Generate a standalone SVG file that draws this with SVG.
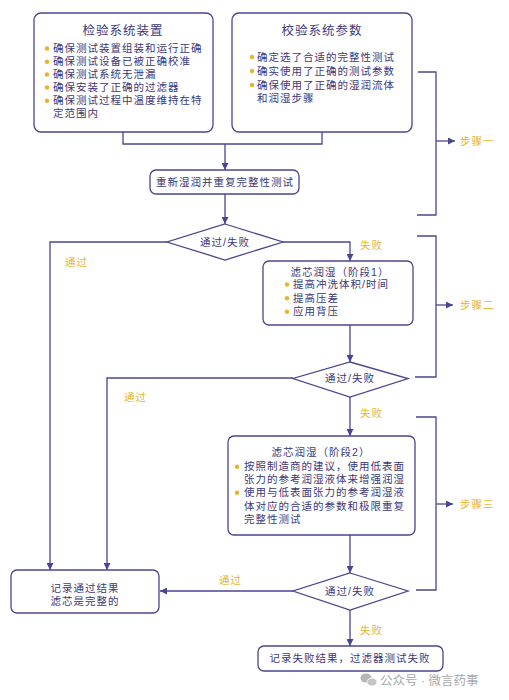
<svg xmlns="http://www.w3.org/2000/svg" width="509" height="700" viewBox="0 0 509 700">
<style>
.box{fill:#fff;stroke:#4b4590;stroke-width:1.3}
.ln{fill:none;stroke:#4b4590;stroke-width:1.3}
.t{font-family:"Liberation Sans","Noto Sans CJK SC",sans-serif;font-size:10.5px;letter-spacing:1px;fill:#3c3878}
.tt{font-family:"Liberation Sans","Noto Sans CJK SC",sans-serif;font-size:12.5px;letter-spacing:1px;fill:#3c3878}
.g{font-family:"Liberation Sans","Noto Sans CJK SC",sans-serif;font-size:10.5px;letter-spacing:1px;fill:#e6b52e}
.dot{fill:#e6b52e}
.wm{font-family:"Liberation Sans","Noto Sans CJK SC",sans-serif;font-size:12.5px;fill:#a8a8a8}
</style>
<defs>
<marker id="ar" viewBox="0 0 10 10" refX="10" refY="5" markerWidth="7" markerHeight="7" orient="auto" markerUnits="userSpaceOnUse">
<path d="M0,0 L10,5 L0,10 z" fill="#4b4590"/>
</marker>
</defs>
<rect width="509" height="700" fill="#fff"/>
<g id="connectors">
<path class="ln" d="M123,132 V144 H322 V132"/>
<path class="ln" d="M225,144 V170" marker-end="url(#ar)"/>
<path class="ln" d="M225,194 V224" marker-end="url(#ar)"/>
<path class="ln" d="M283,242 H350 V261" marker-end="url(#ar)"/>
<path class="ln" d="M167,242 H50 V570" marker-end="url(#ar)"/>
<path class="ln" d="M350,325 V362" marker-end="url(#ar)"/>
<path class="ln" d="M293,378 H107 V570" marker-end="url(#ar)"/>
<path class="ln" d="M350,397 V436" marker-end="url(#ar)"/>
<path class="ln" d="M350,535 V573" marker-end="url(#ar)"/>
<path class="ln" d="M293,591 H160" marker-end="url(#ar)"/>
<path class="ln" d="M350,610 V646" marker-end="url(#ar)"/>
<path class="ln" d="M418,72 H436 V215 H417"/>
<path class="ln" d="M436,141 H455" marker-end="url(#ar)"/>
<path class="ln" d="M417,236 H436 V377 H415"/>
<path class="ln" d="M436,305 H453" marker-end="url(#ar)"/>
<path class="ln" d="M416,417 H436 V590 H416"/>
<path class="ln" d="M436,504 H453" marker-end="url(#ar)"/>
<text class="g" x="360" y="249">失败</text>
<text class="g" x="65" y="266">通过</text>
<text class="g" x="124" y="401">通过</text>
<text class="g" x="360" y="417">失败</text>
<text class="g" x="219" y="584">通过</text>
<text class="g" x="360" y="634">失败</text>
<text class="g" x="460" y="145">步骤一</text>
<text class="g" x="460" y="309">步骤二</text>
<text class="g" x="460" y="508">步骤三</text>
</g>
<g id="box1">
<rect class="box" x="34" y="13" width="179" height="119" rx="7"/>
<text class="tt" x="123" y="35" text-anchor="middle">检验系统装置</text>
<circle class="dot" cx="47" cy="48.5" r="2.2"/>
<circle class="dot" cx="47" cy="61.7" r="2.2"/>
<circle class="dot" cx="47" cy="74.5" r="2.2"/>
<circle class="dot" cx="47" cy="87.5" r="2.2"/>
<circle class="dot" cx="47" cy="100.7" r="2.2"/>
<text class="t"><tspan x="53" y="52.2">确保测试装置组装和运行正确</tspan><tspan x="53" y="65.4">确保测试设备已被正确校准</tspan><tspan x="53" y="78.2">确保测试系统无泄漏</tspan><tspan x="53" y="91.2">确保安装了正确的过滤器</tspan><tspan x="53" y="104.4">确保测试过程中温度维持在特</tspan><tspan x="53" y="117.3">定范围内</tspan></text>
</g>
<g id="box2">
<rect class="box" x="232" y="13" width="180" height="119" rx="7"/>
<text class="tt" x="322" y="35" text-anchor="middle">校验系统参数</text>
<circle class="dot" cx="252" cy="57" r="2.2"/>
<circle class="dot" cx="252" cy="71" r="2.2"/>
<circle class="dot" cx="252" cy="85" r="2.2"/>
<text class="t"><tspan x="257" y="60.7">确定选了合适的完整性测试</tspan><tspan x="257" y="74.7">确实使用了正确的测试参数</tspan><tspan x="257" y="88.7">确保使用了正确的湿润流体</tspan><tspan x="257" y="102.3">和润湿步骤</tspan></text>
</g>
<g id="box3">
<rect class="box" x="150" y="170" width="149" height="24" rx="6"/>
<text class="t" x="225" y="186" text-anchor="middle">重新湿润并重复完整性测试</text>
</g>
<g id="diamond1">
<polygon class="box" points="225,224 283,242 225,260 167,242"/>
<text class="t" x="225" y="245.8" text-anchor="middle">通过/失败</text>
</g>
<g id="box4">
<rect class="box" x="263" y="261" width="150" height="64" rx="6"/>
<circle class="dot" cx="287" cy="284.5" r="2.2"/>
<circle class="dot" cx="287" cy="298.3" r="2.2"/>
<circle class="dot" cx="287" cy="311.7" r="2.2"/>
<text class="t"><tspan x="340" y="275.5" text-anchor="middle">滤芯润湿（阶段1）</tspan><tspan x="293" y="288.3">提高冲洗体积/时间</tspan><tspan x="293" y="302">提高压差</tspan><tspan x="293" y="315.4">应用背压</tspan></text>
</g>
<g id="diamond2">
<polygon class="box" points="350,362 408,378.5 350,397 293,378.5"/>
<text class="t" x="350" y="382.3" text-anchor="middle">通过/失败</text>
</g>
<g id="box5">
<rect class="box" x="228" y="436" width="187" height="99" rx="6"/>
<circle class="dot" cx="237" cy="466.7" r="2.2"/>
<circle class="dot" cx="237" cy="492.7" r="2.2"/>
<text class="t"><tspan x="321" y="455.5" text-anchor="middle">滤芯润湿（阶段2）</tspan><tspan x="244" y="470.4">按照制造商的建议，使用低表面</tspan><tspan x="244" y="482.8">张力的参考润湿液体来增强润湿</tspan><tspan x="244" y="496.4">使用与低表面张力的参考润湿液</tspan><tspan x="244" y="509.7">体对应的合适的参数和极限重复</tspan><tspan x="244" y="522.7">完整性测试</tspan></text>
</g>
<g id="diamond3">
<polygon class="box" points="350,573 408,591 350,610 293,591"/>
<text class="t" x="350" y="594.8" text-anchor="middle">通过/失败</text>
</g>
<g id="box6">
<rect class="box" x="11" y="570" width="148" height="43" rx="6"/>
<text class="t" text-anchor="middle"><tspan x="85" y="592">记录通过结果</tspan><tspan x="85" y="604.5">滤芯是完整的</tspan></text>
</g>
<g id="box7">
<rect class="box" x="258" y="646" width="185" height="25" rx="6"/>
<text class="t" x="350" y="662.2" text-anchor="middle">记录失败结果，过滤器测试失败</text>
</g>
<g id="watermark">
<ellipse cx="366" cy="678" rx="5.5" ry="4.5" fill="#b5b5b5"/>
<ellipse cx="372" cy="682" rx="5" ry="4" fill="#c5c5c5" stroke="#fff" stroke-width="0.8"/>
<text class="wm" x="380" y="684.5">公众号 · 微言药事</text>
</g>
</svg>
